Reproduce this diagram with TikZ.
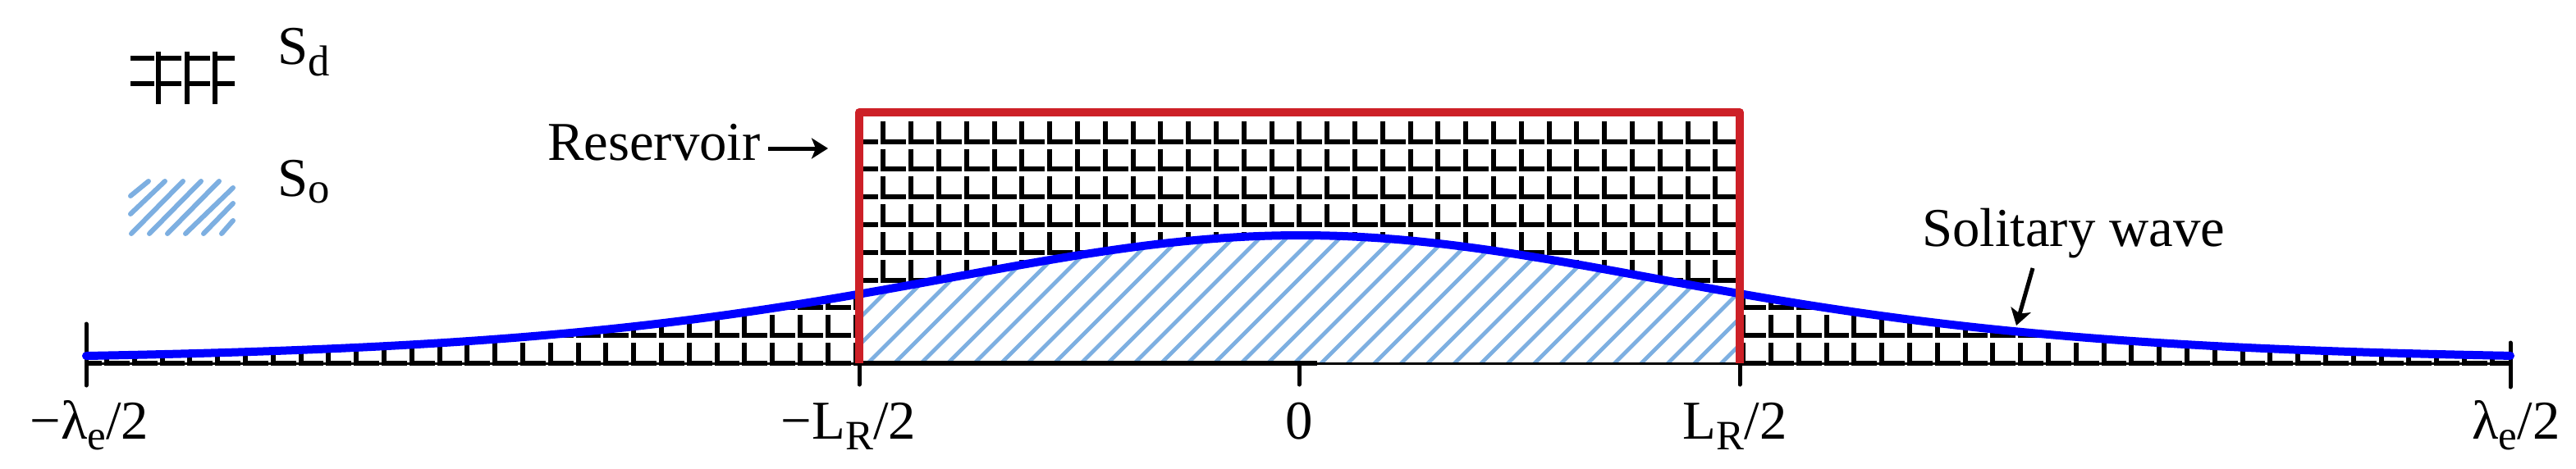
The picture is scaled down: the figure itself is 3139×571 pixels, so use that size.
\documentclass[tikz,border=0pt]{standalone}
\usepackage{fontspec}
\setmainfont{Liberation Serif}
\usetikzlibrary{arrows.meta}
\definecolor{resred}{RGB}{205,32,39}
\definecolor{hatchblue}{RGB}{125,175,225}
\definecolor{waveblue}{RGB}{0,0,255}
\newcommand\lowsub[3]{\raisebox{-#2}{\fontsize{#1}{#1}\selectfont #3}}
\begin{document}
\begin{tikzpicture}[x=0.1mm,y=-0.1mm,
  declare function={wy(\t)=440-153/(cosh(0.00155*(\t-1585)))^2;},
  gridline/.style={line width=0.6mm,black,line join=miter,line cap=butt},
  leggrid/.style={line width=0.6mm,black,line cap=butt},
  hatchline/.style={line width=0.48mm,hatchblue},
  leghatch/.style={line width=0.6mm,hatchblue,line cap=round},
  axisline/.style={line width=0.3mm,black},
  axtick/.style={line width=0.5mm,black,line cap=round},
  wave/.style={line width=1mm,waveblue,line cap=round,line join=round},
  reservoir/.style={line width=1mm,resred,line join=round},
  arr/.style={line width=0.5mm,black,-{Stealth[length=2mm,width=2.5mm,inset=0.5mm]}},
  lbl/.style={font=\fontsize{19}{22}\selectfont,inner sep=0pt,outer sep=0pt}]
\useasboundingbox (0,0) rectangle (3139,571);

% S_d pattern outside the reservoir, below the wave
\begin{scope}
  \clip (105,448) -- plot[domain=105:1047,samples=60] (\x,{wy(\x)}) -- (1047,448) -- cycle
        (2120,448) -- plot[domain=2120:3059,samples=60] (\x,{wy(\x)}) -- (3059,448) -- cycle;
  \foreach \k in {-16,...,72}{
    \foreach \j in {0,...,3}{
      \draw[gridline] ({637+33.8*\k},{443-33.8*(\j+1)+9}) -- ({637+33.8*\k},{443-33.8*\j}) -- ({637+33.8*(\k+1)-6},{443-33.8*\j});
    }
  }
\end{scope}

% S_d pattern inside the reservoir, above the wave
\begin{scope}
  \clip (1047,130) -- plot[domain=1047:2120,samples=60] (\x,{wy(\x)}) -- (2120,130) -- cycle;
  \foreach \k in {11,...,45}{
    \foreach \j in {1,...,8}{
      \draw[gridline] ({637+33.8*\k},{443-33.8*(\j+1)+9}) -- ({637+33.8*\k},{443-33.8*\j}) -- ({637+33.8*(\k+1)-6},{443-33.8*\j});
    }
  }
\end{scope}

% S_o hatching inside the reservoir, below the wave
\begin{scope}
  \clip (1047,443) -- plot[domain=1047:2120,samples=60] (\x,{wy(\x)}) -- (2120,443) -- cycle;
  \foreach \i in {-21,...,22}{
    \draw[hatchline] ({1413+32.5*\i},445) -- ++(330,-330);
  }
\end{scope}

% axis
\draw[axisline] (105,443) -- (3059,443);
\draw[line width=0.6mm] (1047,443) -- (1605,443);
\draw[axtick] (105,395) -- (105,470);
\draw[axtick] (1047,443) -- (1047,469);
\draw[axtick] (1583,443) -- (1583,469);
\draw[axtick] (2120,443) -- (2120,469);
\draw[axtick] (3059,418) -- (3059,472);

% solitary wave
\draw[wave] plot[domain=105:3059,samples=200,smooth] (\x,{wy(\x)});

% reservoir
\draw[reservoir] (1047,443) -- (1047,137) -- (2120,137) -- (2120,443);

% legend symbols
\draw[leggrid] (193,63) -- (193,127);
\draw[leggrid] (228,63) -- (228,127);
\draw[leggrid] (262,63) -- (262,127);
\foreach \yy in {71,102}{
  \draw[leggrid] (159,\yy) -- (188,\yy);
  \draw[leggrid] (193,\yy) -- (221,\yy);
  \draw[leggrid] (228,\yy) -- (256,\yy);
  \draw[leggrid] (262,\yy) -- (286,\yy);
}
\draw[leghatch] (159,239) -- (181,221);
\draw[leghatch] (159,261) -- (201,221);
\draw[leghatch] (160,285) -- (223,221);
\draw[leghatch] (182,285) -- (245,221);
\draw[leghatch] (204,285) -- (267,221);
\draw[leghatch] (226,285) -- (284,229);
\draw[leghatch] (248,285) -- (284,248);
\draw[leghatch] (270,285) -- (284,269);

% legend labels
\node[lbl,anchor=base west] (sd) at (338,78) {S\lowsub{15}{0.22em}{d}};
\node[lbl,anchor=base west] (so) at (338,239) {S\lowsub{15}{0.12em}{o}};

% annotations
\node[lbl,anchor=base west] (res) at (667,195) {Reservoir};
\coordinate (resTip) at (1009,181);
\draw[arr] ([shift={(9,-14)}]res.base east) -- (resTip);

\node[lbl,anchor=base west] (sol) at (2342,300) {Solitary wave};
\coordinate (solTip) at (2457,397);
\draw[arr] ([shift={(135,27)}]sol.base west) -- (solTip);

% axis labels
\node[lbl,anchor=base] (lm) at (109,535) {−λ\lowsub{14.5}{0.2em}{e}/2};
\node[lbl,anchor=base] (lrm) at (1034,535) {−L\lowsub{14.5}{0.2em}{R}/2};
\node[lbl,anchor=base] (zero) at (1583,535) {0};
\node[lbl,anchor=base] (lrp) at (2114,535) {L\lowsub{14.5}{0.2em}{R}/2};
\node[lbl,anchor=base] (lp) at (3066,535) {λ\lowsub{14.5}{0.2em}{e}/2};
\end{tikzpicture}
\end{document}
